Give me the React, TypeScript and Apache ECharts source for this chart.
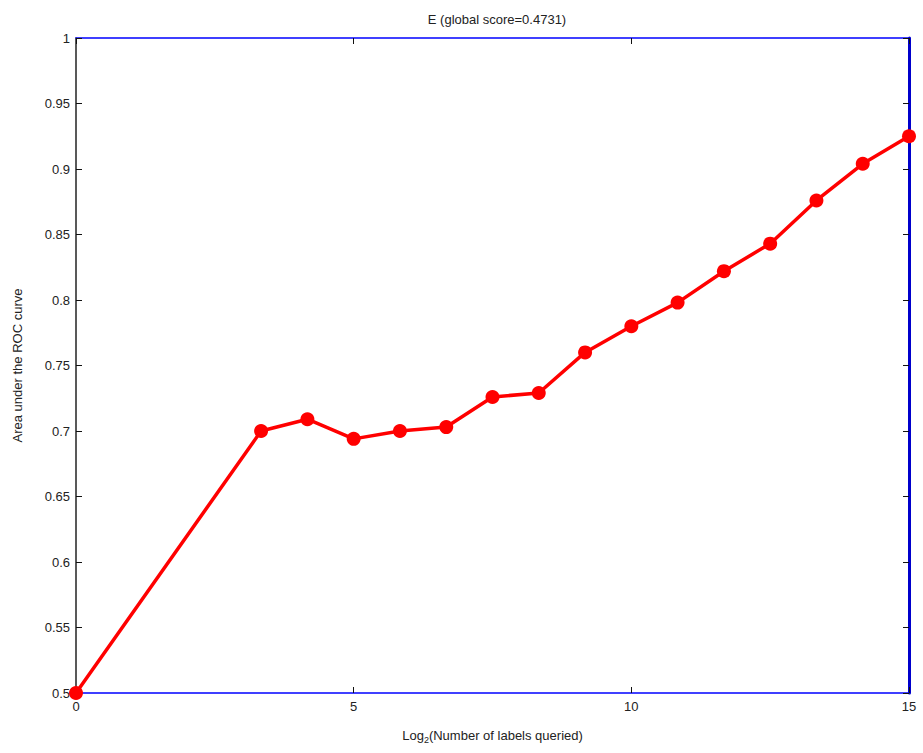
import React, { useEffect, useRef } from "react";
import * as echarts from "echarts";

const xValues = [0, 3.333, 4.167, 5, 5.833, 6.667, 7.5, 8.333, 9.167, 10, 10.833, 11.667, 12.5, 13.333, 14.167, 15];
const yValues = [0.5, 0.7, 0.709, 0.694, 0.7, 0.703, 0.726, 0.729, 0.76, 0.78, 0.798, 0.822, 0.843, 0.876, 0.904, 0.925];
const titleText = "E (global score=0.4731)";
const yAxisTitle = "Area under the ROC curve";

const FONT = "Liberation Sans";

export default function App() {
  const ref = useRef<HTMLDivElement>(null);
  useEffect(() => {
    if (!ref.current) return;
    const chart = echarts.init(ref.current, undefined, { renderer: "svg" });
    const data = xValues.map((x, i) => [x, yValues[i]]);
    chart.setOption({
      animation: false,
      backgroundColor: "#ffffff",
      title: {
        text: titleText,
        left: 492,
        textAlign: "center",
        top: 8,
        textStyle: { fontFamily: FONT, fontSize: 13, fontWeight: "normal", color: "#222" },
      },
      grid: { left: 76, right: 14, top: 38, bottom: 60, containLabel: false, outerBoundsMode: "none" },
      xAxis: [
        {
          type: "value",
          min: 0,
          max: 15,
          interval: 5,
          position: "bottom",
          name: "{a|Log}{s|2}{a|(Number of labels queried)}",
          nameLocation: "middle",
          nameGap: 34,
          nameTextStyle: {
            rich: {
              a: { fontFamily: FONT, fontSize: 13, color: "#222" },
              s: { fontFamily: FONT, fontSize: 9, color: "#222", verticalAlign: "bottom", padding: [8, 0, 0, 0] },
            },
          },
          axisLine: { show: true, onZero: false, lineStyle: { color: "#0000ff", width: 1.5 } },
          axisTick: { show: true, inside: true, length: 6, lineStyle: { color: "#111" } },
          axisLabel: { fontFamily: FONT, fontSize: 13, color: "#222", margin: 7 },
          splitLine: { show: false },
        },
        {
          type: "value",
          min: 0,
          max: 15,
          interval: 5,
          position: "top",
          axisLine: { show: true, onZero: false, lineStyle: { color: "#0000ff", width: 1.5 } },
          axisTick: { show: true, inside: true, length: 6, lineStyle: { color: "#111" } },
          axisLabel: { show: false },
          splitLine: { show: false },
        },
      ],
      yAxis: [
        {
          type: "value",
          min: 0.5,
          max: 1,
          interval: 0.05,
          position: "left",
          name: yAxisTitle,
          nameLocation: "middle",
          nameGap: 52,
          nameTextStyle: { fontFamily: FONT, fontSize: 13, color: "#222" },
          axisLine: { show: true, onZero: false, lineStyle: { color: "#222", width: 1.5 } },
          axisTick: { show: true, inside: true, length: 6, lineStyle: { color: "#111" } },
          axisLabel: { fontFamily: FONT, fontSize: 13, color: "#222", margin: 6 },
          splitLine: { show: false },
        },
        {
          type: "value",
          min: 0.5,
          max: 1,
          interval: 0.05,
          position: "right",
          axisLine: { show: true, onZero: false, lineStyle: { color: "#0000cc", width: 3 } },
          axisTick: { show: true, inside: true, length: 6, lineStyle: { color: "#111" } },
          axisLabel: { show: false },
          splitLine: { show: false },
        },
      ],
      series: [
        {
          type: "line",
          data,
          xAxisIndex: 0,
          yAxisIndex: 0,
          symbol: "circle",
          symbolSize: 14,
          lineStyle: { color: "#ff0000", width: 3.5 },
          itemStyle: { color: "#ff0000" },
          clip: false,
          z: 10,
        },
      ],
    });
    return () => chart.dispose();
  }, []);
  return (
    <div
      ref={ref}
      style={{ position: "absolute", left: 0, top: 0, width: 923, height: 753 }}
    />
  );
}
